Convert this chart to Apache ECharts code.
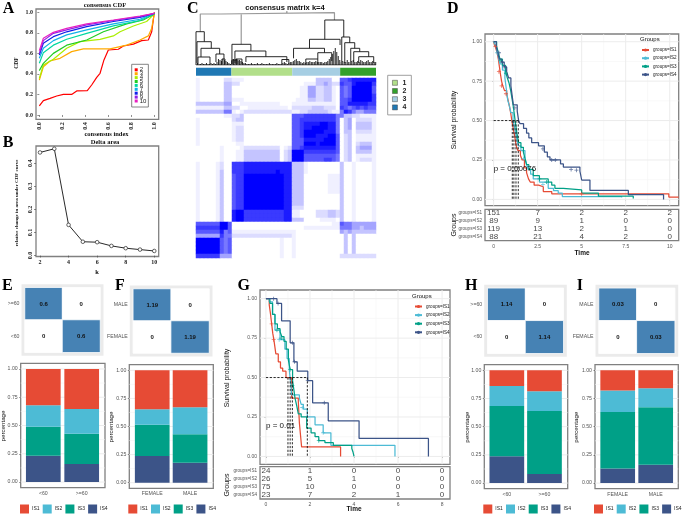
<!DOCTYPE html>
<html>
<head>
<meta charset="utf-8">
<title>Consensus clustering figure</title>
<style>
	html, body { margin: 0; padding: 0; background: #fff; }
	#chart { width: 685px; height: 515px; filter: blur(0.4px); }
</style>
<script src="https://cdn.jsdelivr.net/npm/echarts@6/dist/echarts.min.js"></script>
</head>
<body>
<div id="chart"></div>
<script>
// panel A: consensus CDF, one curve per k, [consensus index, CDF]
const cdfK2 = [[0,.088],[.035,.14],[.093,.162],[.151,.185],[.209,.2],[.281,.2],[.325,.234],[.417,.237],[.455,.292],[.499,.367],[.528,.406],[.562,.536],[.6,.633],[.687,.64],[.731,.672],[.818,.69],[.89,.724],[.948,.73],[.977,.81],[1,1]];
const cdfK3 = [[0,.34],[.035,.47],[.093,.526],[.18,.552],[.281,.617],[.383,.643],[.615,.643],[.76,.68],[.875,.73],[.948,.77],[.977,.844],[1,.99]];
const cdfK4 = [[0,.357],[.035,.487],[.122,.542],[.238,.65],[.354,.714],[.528,.737],[.644,.77],[.702,.81],[.818,.867],[.933,.91],[1,.984]];
const cdfK5 = [[0,.432],[.035,.503],[.122,.6],[.238,.68],[.412,.73],[.557,.81],[.76,.887],[.904,.925],[1,.984]];
const cdfK6 = [[0,.503],[.035,.607],[.122,.68],[.238,.737],[.412,.795],[.644,.867],[.875,.92],[1,.984]];
const cdfK7 = [[0,.552],[.035,.65],[.122,.724],[.238,.78],[.412,.828],[.644,.887],[.875,.932],[1,.99]];
const cdfK8 = [[0,.584],[.035,.698],[.122,.763],[.238,.81],[.412,.86],[.644,.91],[.875,.951],[1,.99]];
const cdfK9 = [[0,.6],[.035,.724],[.122,.795],[.238,.828],[.412,.877],[.644,.92],[.875,.958],[1,.99]];
const cdfK10 = [[0,.627],[.035,.747],[.122,.805],[.238,.844],[.412,.887],[.644,.925],[.875,.964],[1,.99]];
const cdfCurves = [cdfK2, cdfK3, cdfK4, cdfK5, cdfK6, cdfK7, cdfK8, cdfK9, cdfK10];
const cdfColors = ['#ff0000', '#ffaa00', '#aaee00', '#22cc22', '#00d8a0', '#10b0e8', '#1020e8', '#9020e8', '#e820c0'];
const cdfTicks = [0, .2, .4, .6, .8, 1];

// panel B: delta area
const deltaK = [2, 3, 4, 5, 6, 7, 8, 9, 10];
const deltaArea = [.447, .463, .133, .06, .058, .042, .032, .026, .02];
const deltaXTicks = [2, 4, 6, 8, 10];
const deltaYTicks = [0, .1, .2, .3, .4];

// panel C: dendrogram links [left x, right x, top, left foot, right foot]
const dendroTop = [
	[25, 138.7, 52.3, 51, 45],
	[4.3, 45.3, 51, 33.3, 20.7]
];
const dendroLinks = [
	[0, 8.3, 33.3, 1, 23.3],
	[1, 15.3, 23.3, 2, 16.7],
	[5, 23.7, 16.7, 8, 11],
	[2, 14, 8, 1, 1],
	[20, 28, 11, 3, 6],
	[26, 29, 6, 1, 1],
	[36, 55, 20.7, 1, 14],
	[39, 70, 14, 2, 8.3],
	[50, 91, 8.3, 3, 3],
	[86, 93, 5.5, 1, 1],
	[40, 46, 6, 1, 1],
	[36, 42, 5, 1, 1],
	[129, 148, 45, 25.7, 28],
	[113.7, 144.3, 25.7, 16.7, 20],
	[97.7, 128.7, 16.7, 6.7, 12.3],
	[122, 136, 12.3, 6, 4],
	[110, 122, 6, 1, 1],
	[146, 154, 28, 3, 22.3],
	[149, 159, 22.3, 2, 16.7],
	[155, 164, 16.7, 3, 13.3],
	[158, 173, 13.3, 3, 8.3],
	[163, 178, 8.3, 2, 2]
];
const leafHeights = [
	1,2,1,1,2,1,1,2,1,1,2,1,2,1,
	3,6,5,4,6,5,4,3,2,1,
	4,6,5,6,4,5,4,3,2,2,
	1,1,1,2,1,1,1,2,1,1,2,1,1,1,1,2,1,1,1,1,2,1,1,1,2,3,2,1,2,3,
	3,4,5,6,4,4,3,2,3,2,3,3,4,3,3,3,4,3,3,3,3,2,3,3,4,6,8,11,14,17,13,9,5,
	3,4,3,3,5,3,3,4,5,3,3,4,3,5,4,3,3,4,5,3,3,4,3,3
];

// panel C: annotation bar, in column order, and cluster colours
const clusterOrder = ['4', '1', '3', '2'];
const clusterSizes = [88, 151, 119, 89];
const clusterColors = { 1: '#b2df8a', 2: '#33a02c', 3: '#a6cee3', 4: '#1f78b4' };
const matrixLevels = ['#ffffff', '#f0f0ff', '#dcdcff', '#c4c4ff', '#a4a4ff', '#7878ff', '#5858ff', '#3a3aff', '#1c1cff', '#0000ff'];

// panel C: consensus matrix, 0 white to 9 full blue, top row first
const matrixRows = [
	'100000022 111000000000000 000000333300 667888888',
	'100000033 220000000000000 000111334322 766899997',
	'100000033 000000000000000 001144223310 656999996',
	'100000033 000000000000000 001144223310 656999996',
	'100000033 000000000000000 001144223310 656999997',
	'100000033 111000000000000 011133223310 667999997',
	'333333344 001111111111000 111111111110 668888877',
	'111111133 220011111111110 222223332220 765676766',
	'333333355 101222222222222 112233333211 587544555',
	'000000011 223000000000000 666777777775 533221111',
	'100000000 233000000000000 667777777775 034022221',
	'100000000 111000000000000 667888899885 034033331',
	'100000000 122000000000000 667889999885 034033331',
	'100000000 122000000000000 667999998885 033022221',
	'100000000 122000000000000 667999888996 023011111',
	'100000000 122000000000000 666888889996 023011111',
	'100000000 011000000000000 666999899996 023023331',
	'000000100 001222222222012 667888888886 023034441',
	'000000100 011333333333023 999777777776 023033331',
	'000000100 011333333333023 999666666665 023011111',
	'000000100 011333333333023 999666667765 023012221',
	'100001200 777888888888888 333100000000 300100001',
	'100001200 777888888888888 333100000000 300100001',
	'100001300 777888888889888 333100000000 300100001',
	'100001300 677999999999988 333000000111 300100001',
	'100001300 677999999999988 333000000111 300100001',
	'100001300 677999999999988 333000000111 300100001',
	'100001300 677999999999988 333000000111 300100001',
	'100001300 677999999999988 333000000111 300100001',
	'100001300 677999999999988 333000000000 300100001',
	'100001300 677999999999988 333000000000 300100001',
	'100001300 677999999999988 333000000000 300100001',
	'100001300 677999999999988 222000000000 300100001',
	'100001300 899777777777788 110000222332 300100001',
	'100001300 899777777777788 110000222332 300100001',
	'100001300 899777777777788 333000011110 300100001',
	'666666996 000000000000000 000000000011 655444444',
	'777777996 000000000000000 000111111111 555443444',
	'666666856 111111111111111 100000000000 434333333',
	'444444755 222222222222222 100000000000 030300000',
	'999999656 000000000000100 100000000000 030300000',
	'999999656 000000000000100 100000000000 030300000',
	'999999656 000000000000100 100000000000 030300000',
	'999999656 000000000000100 100000000000 030300000',
	'777777444 000000000000100 100000000000 222222222'
];

// panel D: survival curves and censor marks, [years, probability]
const survDIS1 = [[0,1],[.05,.98],[.12,.96],[.2,.93],[.27,.89],[.33,.84],[.38,.8],[.45,.75],[.52,.72],[.62,.69],[.74,.67],[.82,.63],[.9,.59],[.98,.54],[1.05,.49],[1.13,.44],[1.2,.4],[1.28,.34],[1.38,.31],[1.52,.28],[1.62,.25],[1.75,.2],[1.87,.17],[1.98,.13],[2.08,.11],[2.3,.09],[2.55,.08],[2.82,.05],[3.3,.035],[9.95,.015],[10.51,.015]];
const survDIS2 = [[0,1],[.1,.98],[.17,.95],[.28,.9],[.36,.86],[.5,.82],[.64,.77],[.72,.7],[.8,.63],[.9,.59],[.98,.55],[1.1,.5],[1.2,.45],[1.3,.39],[1.4,.34],[1.55,.31],[1.78,.26],[1.88,.22],[1.97,.19],[2.1,.16],[2.25,.13],[2.6,.11],[3.1,.07],[3.4,.055],[3.67,.04],[3.9,.018],[7.27,.012]];
const survDIS3 = [[0,1],[.17,.97],[.27,.93],[.36,.89],[.5,.85],[.68,.81],[.78,.77],[.87,.74],[.97,.69],[1.06,.63],[1.14,.57],[1.22,.5],[1.32,.42],[1.42,.36],[1.55,.33],[1.69,.3],[1.78,.26],[1.87,.22],[2,.19],[2.25,.15],[2.6,.13],[3.1,.11],[3.3,.09],[3.48,.07],[3.96,.06],[5,.04],[5.95,.02],[7.93,.005]];
const survDIS4 = [[0,1],[.15,.97],[.23,.93],[.33,.89],[.45,.87],[.6,.84],[.74,.81],[.85,.77],[.98,.72],[1.05,.66],[1.12,.6],[1.34,.56],[1.42,.5],[1.5,.48],[1.7,.45],[1.87,.42],[2,.39],[2.16,.36],[2.55,.34],[2.88,.3],[3.05,.27],[3.2,.25],[3.8,.225],[3.96,.205],[4.9,.18],[5,.123],[5.47,.057],[7.65,.03],[9.65,0]];
const censorDIS1 = [[.1,.97],[.3,.81],[.45,.72],[.7,.67],[5,.035]];
const censorDIS2 = [[.2,.93],[1.7,.26],[2.8,.095]];
const censorDIS3 = [[.4,.88],[.7,.8],[2.6,.13],[3,.11]];
const censorDIS4 = [[.3,.93],[.5,.87],[.6,.84],[1.2,.58],[2.8,.32],[3.3,.25],[3.5,.25],[4.4,.19],[4.7,.185]];
const medianD = [1.06, 1.15, 1.27, 1.4];
const riskTimesD = [0, 2.5, 5, 7.5, 10];
const riskD = [[151, 7, 2, 2, 2], [89, 9, 1, 0, 0], [119, 13, 2, 1, 0], [88, 21, 4, 2, 0]];

// panel G: survival curves and censor marks
const survGIS1 = [[0,1],[.15,.96],[.21,.9],[.26,.84],[.31,.78],[.36,.74],[.45,.65],[.56,.6],[.66,.56],[.76,.54],[.91,.5],[1.17,.37],[1.47,.35],[1.52,.21],[1.58,.12],[1.62,.06],[3.39,0]];
const survGIS2 = [[0,1],[.15,.98],[.3,.9],[.41,.8],[.64,.74],[.86,.68],[.96,.62],[1.06,.55],[1.12,.47],[1.17,.39],[1.52,.37],[1.6,.33],[1.7,.3],[1.88,.25],[2.23,.2],[2.6,.15],[2.95,.07],[5.86,0]];
const survGIS3 = [[0,1],[.18,.97],[.3,.9],[.41,.84],[.52,.81],[.64,.79],[.72,.76],[.82,.73],[.92,.68],[1.02,.61],[1.1,.55],[1.21,.48],[1.27,.42],[1.32,.37],[1.4,.32],[1.47,.27],[1.6,.25],[1.85,.18],[2.05,.15],[2.23,.125],[2.4,.1],[2.68,.087],[3.06,.07],[3.9,.05],[3.95,.03],[4,0]];
const survGIS4 = [[0,1],[.5,.97],[.71,.86],[1.1,.72],[1.27,.6],[1.42,.54],[1.9,.48],[2.12,.34],[2.83,.226],[4.23,.114],[7.38,0]];
const censorGIS1 = [[.26,.84],[.35,.74]];
const censorGIS2 = [[.6,.74],[1.65,.31],[2.6,.15]];
const censorGIS3 = [[.5,.8],[.7,.75],[1.1,.55],[1.2,.45],[2.4,.1]];
const censorGIS4 = [[.35,1],[.55,.97],[1.2,.72],[1.3,.6],[1.9,.48],[2.65,.34]];
const medianG = [1, 1.1, 1.2, 1.88];
const riskTimesG = [0, 2, 4, 6, 8];
const riskG = [[24, 1, 0, 0, 0], [26, 5, 1, 0, 0], [75, 10, 0, 0, 0], [23, 7, 2, 1, 0]];
const probTicks = [0, .25, .5, .75, 1];

const groupNames = ['groups=IS1', 'groups=IS2', 'groups=IS3', 'groups=IS4'];
const isNames = ['IS1', 'IS2', 'IS3', 'IS4'];
const isColors = ['#e64b35', '#4dbbd5', '#00a087', '#3c5488'];

// panels E, F, H, I: chi-square tiles and stacked shares
const ageCats = ['<60', '>=60'];
const sexCats = ['FEMALE', 'MALE'];
const tileE = 0.6;
const tileF = 1.19;
const tileH = 1.14;
const tileI = 0.03;
const shareEIS1 = [.322, .354];
const shareEIS2 = [.188, .218];
const shareEIS3 = [.257, .269];
const shareEIS4 = [.233, .159];
const shareFIS1 = [.346, .328];
const shareFIS2 = [.139, .24];
const shareFIS3 = [.278, .254];
const shareFIS4 = [.237, .178];
const shareHIS1 = [.139, .186];
const shareHIS2 = [.178, .175];
const shareHIS3 = [.446, .559];
const shareHIS4 = [.237, .08];
const shareIIS1 = [.178, .16];
const shareIIS2 = [.192, .168];
const shareIIS3 = [.5, .509];
const shareIIS4 = [.13, .163];

const SANS = '"Liberation Sans", Arial, sans-serif';
const SERIF = '"Liberation Serif", serif';
const FRAME = '#808080';
const GRID_LINE = '#ececec';
const GRID_MINOR = '#f4f4f4';

const grids = [];
const xAxes = [];
const yAxes = [];
const series = [];
const legends = [];
const texts = [];
const visualMaps = [];

function addGrid(l, t, r, b, x, y, extra) {
	grids.push(Object.assign({ left: l, top: t, width: r - l, height: b - t, show: false }, extra));
	const i = grids.length - 1;
	xAxes.push(Object.assign({ gridIndex: i }, x));
	yAxes.push(Object.assign({ gridIndex: i }, y));
	return i;
}

function addText(x, y, text, font, opts) {
	const o = opts || {};
	texts.push({
		type: 'text',
		x: x,
		y: y,
		rotation: o.rotate ? Math.PI / 2 : 0,
		z: 50,
		style: {
			text: text,
			font: font,
			fill: o.fill || '#111',
			align: o.align || 'center',
			verticalAlign: 'middle'
		}
	});
}

function hidden(min, max) {
	return { type: 'value', min: min, max: max, show: false };
}

// breaks a polyline list so one line series can carry many separate pieces
function joinPieces(pieces) {
	const out = [];
	pieces.forEach((p) => {
		p.forEach((pt) => out.push(pt));
		out.push(['-', '-']);
	});
	return out;
}

function midpoints(ticks) {
	return ticks.slice(1).map((t, i) => (t + ticks[i]) / 2);
}

function frameGrid() {
	return { show: true, borderColor: FRAME, borderWidth: 1.3, backgroundColor: '#fff' };
}

// ticks come from customValues, so the range can start anywhere
function tickAxis(min, max, ticks, label, tickOpts) {
	return {
		type: 'value',
		min: min,
		max: max,
		splitLine: { show: false },
		axisLine: { show: false },
		axisTick: Object.assign({ customValues: ticks, length: 2, lineStyle: { color: '#444', width: 0.6 } }, tickOpts),
		axisLabel: Object.assign({ customValues: ticks, margin: 3 }, label)
	};
}

function serifLabel(digits, rotate) {
	return {
		rotate: rotate,
		fontFamily: SERIF,
		fontWeight: 'bold',
		fontSize: 6,
		color: '#222',
		formatter: (v) => digits === 0 ? String(v) : v.toFixed(digits)
	};
}

function ggLabel(fmt, size) {
	return { fontFamily: SANS, fontSize: size, color: '#555', formatter: fmt };
}

// ggplot style background lines, major and halfway minor, behind the marks
function addGridLines(g, xMin, xMax, yMin, yMax, xTicks, yTicks) {
	const draw = (xs, ys, color, width) => {
		const pieces = xs.map((x) => [[x, yMin], [x, yMax]]).concat(ys.map((y) => [[xMin, y], [xMax, y]]));
		series.push({
			type: 'line',
			xAxisIndex: g,
			yAxisIndex: g,
			data: joinPieces(pieces),
			symbol: 'none',
			connectNulls: false,
			z: 1,
			lineStyle: { color: color, width: width }
		});
	};
	draw(midpoints(xTicks), midpoints(yTicks), GRID_MINOR, 0.6);
	draw(xTicks, yTicks, GRID_LINE, 1);
}

// panel A
const gA = addGrid(36, 9, 158.7, 119.3,
	tickAxis(-0.029, 1.038, cdfTicks, serifLabel(1, 90)),
	tickAxis(-0.042, 1.032, cdfTicks, serifLabel(1, 0)),
	frameGrid());
cdfCurves.forEach((curve, i) => {
	series.push({
		type: 'line',
		name: 'k=' + (i + 2),
		xAxisIndex: gA,
		yAxisIndex: gA,
		data: curve,
		symbol: 'none',
		lineStyle: { color: cdfColors[i], width: 1.2 },
		itemStyle: { color: cdfColors[i] }
	});
});
legends.push({
	left: 131.7,
	top: 64.3,
	orient: 'vertical',
	selectedMode: false,
	data: cdfCurves.map((c, i) => 'k=' + (i + 2)),
	formatter: (n) => n.slice(2),
	icon: 'rect',
	padding: [2.5, 2, 3, 3],
	itemWidth: 3,
	itemHeight: 3,
	itemGap: -2.1,
	borderColor: '#666',
	borderWidth: 0.8,
	textStyle: { fontSize: 6, fontFamily: SANS, color: '#222', padding: [0, 0, 0, -3] }
});
addText(105, 5, 'consensus CDF', 'bold 6.5px ' + SERIF);
addText(106.5, 134, 'consensus index', 'bold 6.5px ' + SERIF);
addText(17, 63, 'CDF', 'bold 5.5px ' + SERIF, { rotate: true });

// panel B
const gB = addGrid(36, 146, 158.7, 256.5,
	tickAxis(1.72, 10.31, deltaXTicks, serifLabel(0, 0)),
	tickAxis(-0.004, 0.475, deltaYTicks, serifLabel(1, 90)),
	frameGrid());
series.push({
	type: 'line',
	xAxisIndex: gB,
	yAxisIndex: gB,
	data: deltaK.map((k, i) => [k, deltaArea[i]]),
	symbol: 'circle',
	symbolSize: 3.6,
	lineStyle: { color: '#111', width: 0.9 },
	itemStyle: { color: '#fff', borderColor: '#222', borderWidth: 0.7 }
});
addText(105, 142, 'Delta area', 'bold 6.5px ' + SERIF);
addText(17, 203, 'relative change in area under CDF curve', 'bold 5px ' + SERIF, { rotate: true });
addText(97, 272, 'k', 'bold 6.5px ' + SERIF);

// panel C
const gDendro = addGrid(196, 10, 376, 65, hidden(0, 180.3), hidden(0, 55));
const legPiece = ([l, r, t, a, b]) => [[l, a], [l, t], [r, t], [r, b]];
series.push({
	type: 'line',
	xAxisIndex: gDendro,
	yAxisIndex: gDendro,
	data: joinPieces(dendroTop.map(legPiece).concat([[[91, 52.3], [91, 54]]])),
	symbol: 'none',
	connectNulls: false,
	lineStyle: { color: '#999', width: 1.2 }
});
series.push({
	type: 'line',
	xAxisIndex: gDendro,
	yAxisIndex: gDendro,
	data: joinPieces(dendroLinks.map(legPiece)
		.concat(leafHeights.map((h, i) => [[i * 1.5, 0], [i * 1.5, h]]))
		.concat([[[0, 0], [180.3, 0]]])),
	symbol: 'none',
	connectNulls: false,
	lineStyle: { color: '#111', width: 0.9 }
});

const gBar = addGrid(196, 67.7, 376, 75.7,
	hidden(0, clusterSizes.reduce((a, b) => a + b, 0)),
	{ type: 'category', data: ['cluster'], show: false });
clusterOrder.forEach((name, i) => {
	series.push({
		type: 'bar',
		name: name,
		stack: 'cluster',
		xAxisIndex: gBar,
		yAxisIndex: gBar,
		data: [clusterSizes[i]],
		barWidth: '100%',
		itemStyle: { color: clusterColors[name] }
	});
});
legends.push({
	left: 387.7,
	top: 75.3,
	orient: 'vertical',
	selectedMode: false,
	data: ['1', '2', '3', '4'],
	icon: 'rect',
	padding: [4, 5, 4, 4.5],
	itemWidth: 5,
	itemHeight: 5,
	itemGap: 1.2,
	borderColor: '#888',
	borderWidth: 0.8,
	itemStyle: { borderColor: '#444', borderWidth: 0.5 },
	textStyle: { fontSize: 7, fontFamily: SANS, fontWeight: 'bold', color: '#222' }
});

const matrixCells = [];
const matrixClean = matrixRows.map((r) => r.replace(/ /g, ''));
matrixClean.forEach((row, y) => {
	row.split('').forEach((c, x) => {
		matrixCells.push([x, y, Number(c)]);
	});
});
const gMatrix = addGrid(196, 78, 376, 258,
	{ type: 'category', show: false, data: matrixClean[0].split('').map((c, i) => i) },
	{ type: 'category', show: false, inverse: true, data: matrixClean.map((r, i) => i) });
series.push({
	type: 'heatmap',
	xAxisIndex: gMatrix,
	yAxisIndex: gMatrix,
	data: matrixCells,
	progressive: 0
});
visualMaps.push({
	show: false,
	seriesIndex: series.length - 1,
	dimension: 2,
	min: 0,
	max: 9,
	inRange: { color: matrixLevels }
});
addText(285, 8, 'consensus matrix k=4', 'bold 7.6px ' + SANS);

// panels D and G: survival
function addSurvival(conf) {
	const g = addGrid(conf.box[0], conf.box[1], conf.box[2], conf.box[3],
		tickAxis(conf.xMin, conf.xMax, conf.riskTimes, { show: false }, { length: 1.5 }),
		tickAxis(conf.yMin, conf.yMax, probTicks, ggLabel((v) => v.toFixed(2), 5), { length: 1.5 }),
		frameGrid());
	addGridLines(g, conf.xMin, conf.xMax, conf.yMin, conf.yMax, conf.riskTimes, probTicks);
	series.push({
		type: 'line',
		xAxisIndex: g,
		yAxisIndex: g,
		data: joinPieces(conf.medians.map((t) => [[t, 0.5], [t, 0]])
			.concat([[[0, 0.5], [conf.medians[conf.medians.length - 1], 0.5]]])),
		symbol: 'none',
		connectNulls: false,
		z: 5,
		lineStyle: { color: '#111', width: 0.9, type: [2.2, 1.6] }
	});
	conf.curves.forEach((curve, i) => {
		series.push({
			type: 'line',
			name: groupNames[i],
			xAxisIndex: g,
			yAxisIndex: g,
			data: curve,
			step: 'end',
			symbol: 'none',
			z: 3,
			lineStyle: { color: isColors[i], width: 1.25 },
			itemStyle: { color: isColors[i] }
		});
		series.push({
			type: 'scatter',
			xAxisIndex: g,
			yAxisIndex: g,
			data: conf.censors[i],
			symbol: 'path://M4 0h2v4h4v2h-4v4h-2v-4h-4v-2h4z',
			symbolSize: 4,
			z: 4,
			itemStyle: { color: isColors[i] }
		});
	});
	legends.push({
		left: conf.legend[0],
		top: conf.legend[1],
		orient: 'vertical',
		selectedMode: false,
		data: groupNames,
		padding: 0,
		itemWidth: 7,
		itemHeight: 4,
		itemGap: conf.legendGap,
		textStyle: { fontSize: 4.6, fontFamily: SANS, color: '#222', padding: [0, 0, 0, -1] }
	});
	const t = addGrid(conf.box[0], conf.table[0], conf.box[2], conf.table[1],
		tickAxis(conf.xMin, conf.xMax, conf.riskTimes, ggLabel((v) => String(v), 5), { length: 1.5 }),
		{
			type: 'category',
			inverse: true,
			data: groupNames,
			axisLine: { show: false },
			axisTick: { length: 1.5, alignWithLabel: true, lineStyle: { color: '#444', width: 0.6 } },
			axisLabel: { fontFamily: SANS, fontSize: 4.6, color: '#555', margin: 3 }
		},
		frameGrid());
	conf.risk.forEach((row, i) => {
		series.push({
			type: 'scatter',
			xAxisIndex: t,
			yAxisIndex: t,
			symbolSize: 1,
			itemStyle: { color: 'rgba(0,0,0,0)' },
			data: row.map((n, j) => [conf.riskTimes[j], i, n]),
			label: {
				show: true,
				position: 'inside',
				fontFamily: SANS,
				fontSize: 8,
				color: '#111',
				formatter: (p) => String(p.value[2])
			}
		});
	});
}

addSurvival({
	box: [485, 34, 678.7, 205.7],
	table: [209.3, 240.7],
	xMin: -0.49,
	xMax: 10.51,
	yMin: -0.04,
	yMax: 1.049,
	curves: [survDIS1, survDIS2, survDIS3, survDIS4],
	censors: [censorDIS1, censorDIS2, censorDIS3, censorDIS4],
	medians: medianD,
	risk: riskD,
	riskTimes: riskTimesD,
	legend: [641, 47.5],
	legendGap: 3.2
});
addText(454, 120, 'Survival probability', '7px ' + SANS, { rotate: true });
addText(454, 225, 'Groups', '7px ' + SANS, { rotate: true });
addText(582, 253, 'Time', 'bold 6.5px ' + SANS);
addText(640, 39, 'Groups', '6px ' + SANS, { align: 'left' });
addText(493.7, 168.5, 'p = 0.00076', '8px ' + SANS, { align: 'left' });

addSurvival({
	box: [260, 290, 450, 464.3],
	table: [466.7, 499],
	xMin: -0.27,
	xMax: 8.36,
	yMin: -0.05,
	yMax: 1.055,
	curves: [survGIS1, survGIS2, survGIS3, survGIS4],
	censors: [censorGIS1, censorGIS2, censorGIS3, censorGIS4],
	medians: medianG,
	risk: riskG,
	riskTimes: riskTimesG,
	legend: [414, 304],
	legendGap: 3.6
});
addText(227, 378, 'Survival probability', '7px ' + SANS, { rotate: true });
addText(227, 485, 'Groups', '7px ' + SANS, { rotate: true });
addText(354, 509.5, 'Time', 'bold 6.5px ' + SANS);
addText(412, 296, 'Groups', '6px ' + SANS, { align: 'left' });
addText(266, 426, 'p = 0.01', '8px ' + SANS, { align: 'left' });

// tiles and stacked bars
function addTile(box, cats, value) {
	const g = addGrid(box[0], box[1], box[2], box[3],
		{
			type: 'category',
			data: ['a', 'b'],
			offset: 3.5,
			axisLine: { show: false },
			axisTick: { length: 1.5, alignWithLabel: true, lineStyle: { color: '#444', width: 0.6 } },
			axisLabel: { show: false }
		},
		{
			type: 'category',
			data: cats,
			offset: 3.5,
			axisLine: { show: false },
			axisTick: { length: 1.5, alignWithLabel: true, lineStyle: { color: '#444', width: 0.6 } },
			axisLabel: { fontFamily: SANS, fontSize: 5.2, color: '#555', margin: 2 }
		},
		{ show: true, borderColor: '#ebebeb', borderWidth: 7, backgroundColor: '#fff' });
	const cells = [[0, 1, value], [1, 1, 0], [0, 0, 0], [1, 0, value]];
	series.push({
		type: 'heatmap',
		xAxisIndex: g,
		yAxisIndex: g,
		data: cells.map((c) => ({
			value: c,
			itemStyle: { color: c[2] > 0 ? '#4682b4' : '#ffffff', borderColor: '#fff', borderWidth: 0.8 }
		})),
		label: {
			show: true,
			fontFamily: SANS,
			fontSize: 6,
			fontWeight: 'bold',
			color: '#111',
			formatter: (p) => String(p.value[2])
		}
	});
}

// frame grid carries the y scale and the box, the inner grid holds the two bars
function addStack(box, inner, cats, shares, barPx, titleX, legendX) {
	const frame = addGrid(box[0], box[1], box[2], box[3],
		hidden(box[0], box[2]),
		tickAxis(-0.05, 1.05, probTicks, ggLabel((v) => v.toFixed(2), 5.2), { length: 1.5 }),
		frameGrid());
	addGridLines(frame, box[0], box[2], -0.05, 1.05, [], probTicks);
	const g = addGrid(inner[0], box[1], inner[1], box[3],
		{
			type: 'category',
			data: cats,
			offset: 0,
			axisLine: { show: false },
			axisTick: { length: 1.5, alignWithLabel: true, lineStyle: { color: '#444', width: 0.6 } },
			axisLabel: { fontFamily: SANS, fontSize: 5.2, color: '#555', margin: 3 }
		},
		hidden(-0.05, 1.05));
	[3, 2, 1, 0].forEach((k) => {
		series.push({
			type: 'bar',
			name: isNames[k],
			stack: 'share' + g,
			xAxisIndex: g,
			yAxisIndex: g,
			barWidth: barPx,
			z: 3,
			data: shares[k],
			itemStyle: { color: isColors[k] }
		});
	});
	addText(titleX, (box[1] + box[3]) / 2 + 0.5, 'percentage', '6.2px ' + SANS, { rotate: true });
	legends.push({
		left: legendX,
		top: 504.5,
		selectedMode: false,
		data: isNames,
		icon: 'rect',
		padding: 0,
		itemWidth: 9,
		itemHeight: 9,
		itemGap: 3.2,
		textStyle: { fontSize: 5, fontFamily: SANS, color: '#222', padding: [0, 0, 0, -2] }
	});
}

addTile([25, 287.7, 100, 352.3], ageCats, tileE);
addTile([133.3, 289, 209, 353], sexCats, tileF);
addTile([487.7, 288.3, 563.3, 353.3], ageCats, tileH);
addTile([599, 288.3, 674.7, 353.3], sexCats, tileI);

addStack([20.7, 363.3, 105, 487.7], [24.1, 100.9], ageCats, [shareEIS1, shareEIS2, shareEIS3, shareEIS4], 34.7, 3.5, 20);
addStack([129.3, 364.7, 213.3, 488.3], [133.3, 209], sexCats, [shareFIS1, shareFIS2, shareFIS3, shareFIS4], 34.7, 111.7, 128.3);
addStack([484.3, 364.7, 567.7, 488.7], [488, 563.3], ageCats, [shareHIS1, shareHIS2, shareHIS3, shareHIS4], 34.7, 467.7, 483.3);
addStack([595, 364.7, 678.3, 488.7], [598.7, 674.7], sexCats, [shareIIS1, shareIIS2, shareIIS3, shareIIS4], 34.7, 576.7, 594);

// panel letters
[['A', 2.7, 9], ['B', 2.7, 143], ['C', 187, 9], ['D', 447, 9], ['E', 2, 285.5], ['F', 115, 285.5], ['G', 237.5, 285.5], ['H', 465, 285.5], ['I', 576.7, 285.5]].forEach(([t, x, y]) => {
	addText(x, y, t, 'bold 16px ' + SERIF, { align: 'left', fill: '#000' });
});

const chart = echarts.init(document.getElementById('chart'), null, { renderer: 'canvas' });
chart.setOption({
	animation: false,
	backgroundColor: '#fff',
	tooltip: { show: false },
	grid: grids,
	xAxis: xAxes,
	yAxis: yAxes,
	series: series,
	legend: legends,
	visualMap: visualMaps,
	graphic: { elements: texts }
});
</script>
</body>
</html>
